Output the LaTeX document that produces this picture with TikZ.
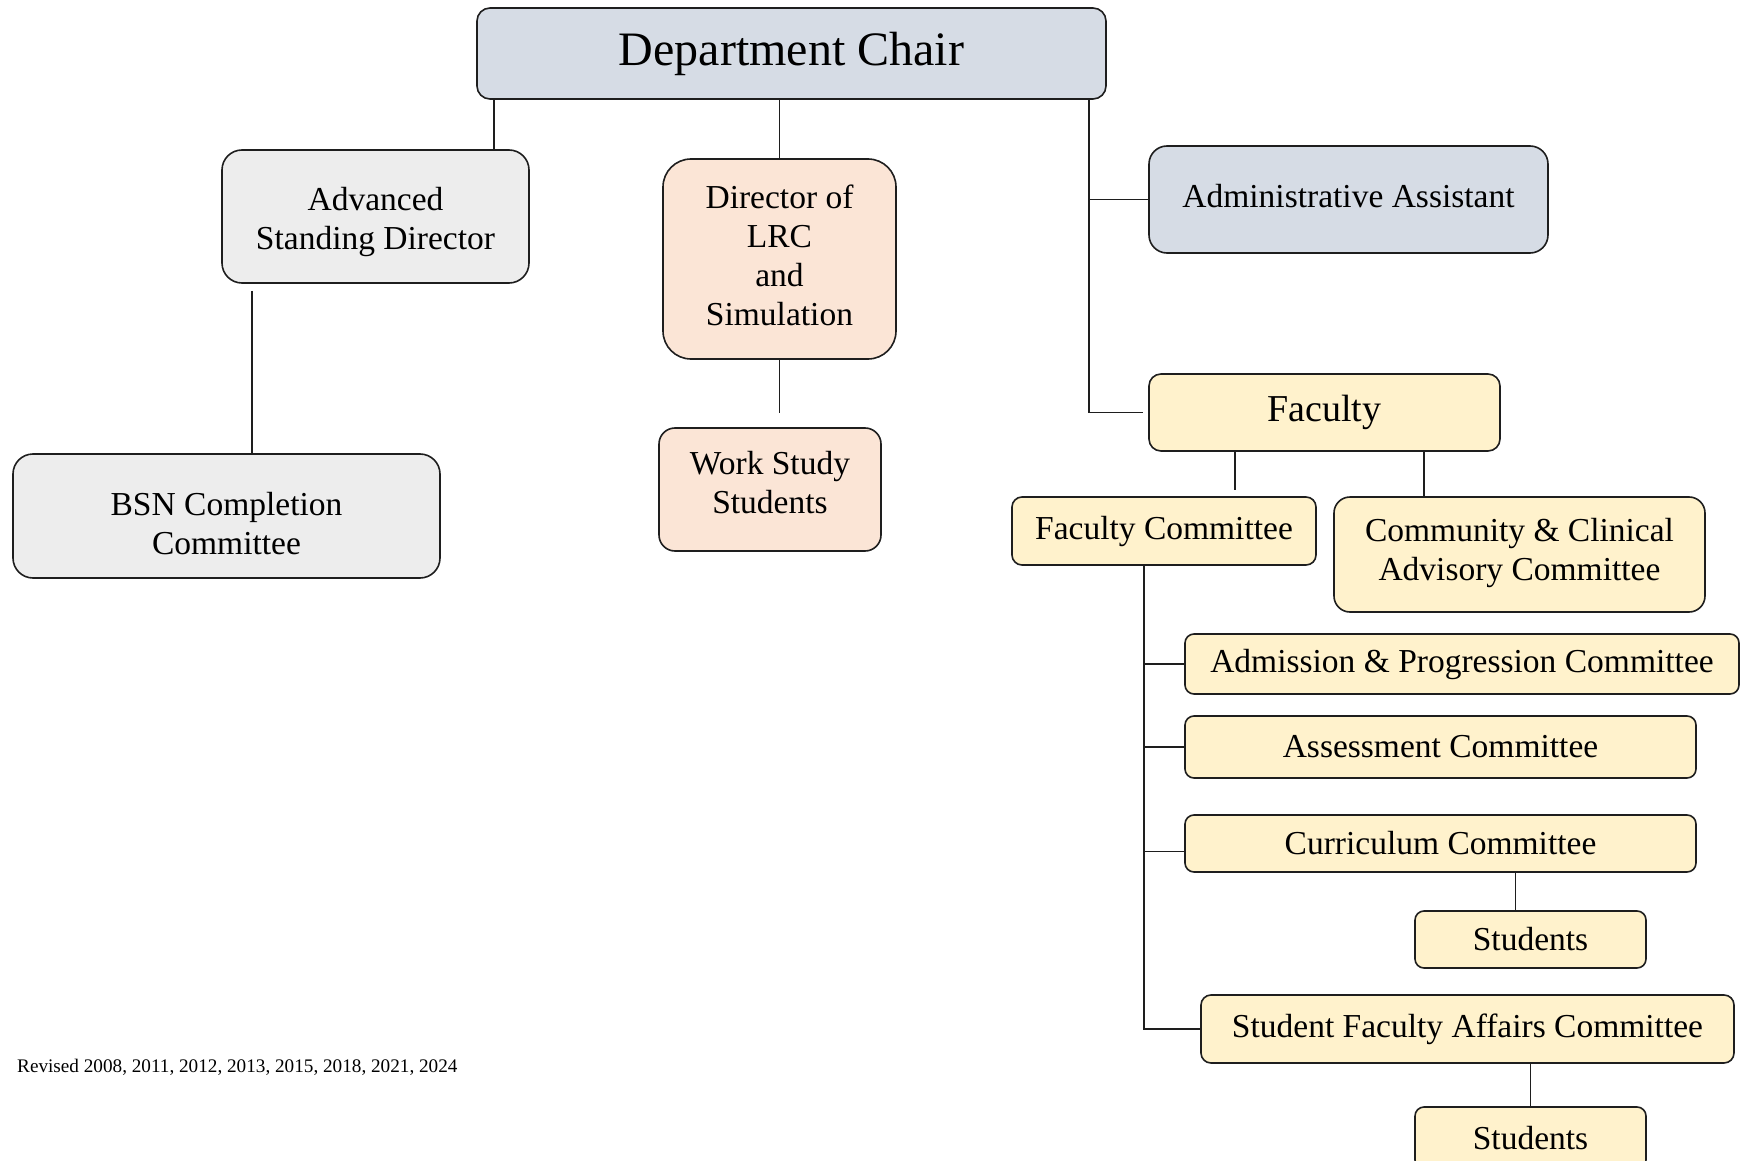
\documentclass[tikz,border=0pt]{standalone}
\usepackage{fontspec}
\setmainfont{Liberation Serif}
\usetikzlibrary{calc}
\definecolor{chairblue}{HTML}{D6DCE5}
\definecolor{advgrey}{HTML}{EDEDED}
\definecolor{dirpeach}{HTML}{FBE5D6}
\definecolor{facyellow}{HTML}{FFF2CC}
\definecolor{edge}{HTML}{1E1E1E}
\newcommand\liftlines[2]{\raisebox{#1}[\height][\depth]{\begin{tabular}{@{}c@{}}#2\end{tabular}}}
\begin{document}
\begin{tikzpicture}[x=1pt,y=-1pt,
  orgbox/.style={draw=edge, line width=1.6pt, rectangle, align=center, inner sep=0pt,
    font=\fontsize{33.5}{39}\selectfont},
  conn/.style={draw=edge, line width=1.6pt}]
\useasboundingbox (0,0) rectangle (1746,1161);
\fill[white] (0,0) rectangle (1746,1161);

% nodes
\node[orgbox, fill=chairblue, rounded corners=13pt, minimum width=629pt, minimum height=91pt,
  font=\fontsize{48}{56}\selectfont] (chair) at (791.5,53.5) {Department Chair};
\node[orgbox, fill=advgrey, rounded corners=20pt, minimum width=307pt, minimum height=133pt]
  (adv) at (375.5,216.5) {\liftlines{-6pt}{Advanced\\Standing Director}};
\node[orgbox, fill=advgrey, rounded corners=20pt, minimum width=427pt, minimum height=124pt]
  (bsn) at (226.5,516) {\liftlines{-11pt}{BSN Completion\\Committee}};
\node[orgbox, fill=dirpeach, rounded corners=28pt, minimum width=233pt, minimum height=200pt]
  (dir) at (779.5,259) {\liftlines{-0.5pt}{Director of\\LRC\\and\\Simulation}};
\node[orgbox, fill=dirpeach, rounded corners=16pt, minimum width=222pt, minimum height=123pt]
  (ws) at (770,489.5) {\liftlines{3.5pt}{Work Study\\Students}};
\node[orgbox, fill=chairblue, rounded corners=18pt, minimum width=399pt, minimum height=107pt]
  (aa) at (1348.5,199.5) {\liftlines{0pt}{Administrative Assistant}};
\node[orgbox, fill=facyellow, rounded corners=12pt, minimum width=351pt, minimum height=77pt,
  font=\fontsize{38}{44}\selectfont] (fac) at (1324.5,412.5) {Faculty};
\node[orgbox, fill=facyellow, rounded corners=10pt, minimum width=304pt, minimum height=68pt]
  (fc) at (1164,531) {Faculty Committee};
\node[orgbox, fill=facyellow, rounded corners=16pt, minimum width=371pt, minimum height=115pt]
  (cca) at (1519.5,554.5) {\liftlines{1.3pt}{Community \& Clinical\\Advisory Committee}};
\node[orgbox, fill=facyellow, rounded corners=9pt, minimum width=554pt, minimum height=60pt]
  (ap) at (1462,664) {Admission \& Progression Committee};
\node[orgbox, fill=facyellow, rounded corners=9pt, minimum width=511pt, minimum height=62pt]
  (as) at (1440.5,747) {Assessment Committee};
\node[orgbox, fill=facyellow, rounded corners=9pt, minimum width=511pt, minimum height=57pt]
  (cur) at (1440.5,843.5) {Curriculum Committee};
\node[orgbox, fill=facyellow, rounded corners=9pt, minimum width=231pt, minimum height=57pt]
  (st1) at (1530.5,939.5) {Students};
\node[orgbox, fill=facyellow, rounded corners=10pt, minimum width=533pt, minimum height=68pt]
  (sfa) at (1467.5,1029) {Student Faculty Affairs Committee};
\node[orgbox, fill=facyellow, rounded corners=9pt, minimum width=231pt, minimum height=62pt]
  (st2) at (1530.5,1138) {Students};

\node[anchor=west, inner sep=0pt, font=\fontsize{19.2}{22}\selectfont] (rev) at (17,1067)
  {Revised 2008, 2011, 2012, 2013, 2015, 2018, 2021, 2024};

% connectors
\coordinate (cl) at ([xshift=18pt]chair.south west);
\draw[conn] (cl) -- (cl |- adv.north);
\draw[conn] (chair.south -| dir.north) -- (dir.north);
\coordinate (ca) at ([xshift=31pt]adv.south west);
\draw[conn, shorten <=7pt] (ca) -- (ca |- bsn.north);
\draw[conn, shorten >=14pt] (dir.south) -- (dir.south |- ws.north);
\coordinate (cr) at ([xshift=-18pt]chair.south east);
\draw[conn] (cr) |- ([xshift=-5pt]fac.west);
\draw[conn] (cr |- aa.west) -- (aa.west);
\coordinate (f1) at ([xshift=-89.5pt]fac.south);
\draw[conn, shorten >=6pt] (f1) -- (f1 |- fc.north);
\coordinate (f2) at ([xshift=99.5pt]fac.south);
\draw[conn] (f2) -- (f2 |- cca.north);
\coordinate (sp) at ([xshift=-20pt]fc.south);
\draw[conn] (sp) |- (sfa.west);
\draw[conn] (sp |- ap.west) -- (ap.west);
\draw[conn] (sp |- as.west) -- (as.west);
\coordinate (cw) at ([yshift=-8pt]cur.west);
\draw[conn] (sp |- cw) -- (cw);
\coordinate (s1) at ([xshift=-15pt]st1.north);
\draw[conn] (s1 |- cur.south) -- (s1);
\draw[conn] (sfa.south -| st2.north) -- (st2.north);
\end{tikzpicture}
\end{document}
